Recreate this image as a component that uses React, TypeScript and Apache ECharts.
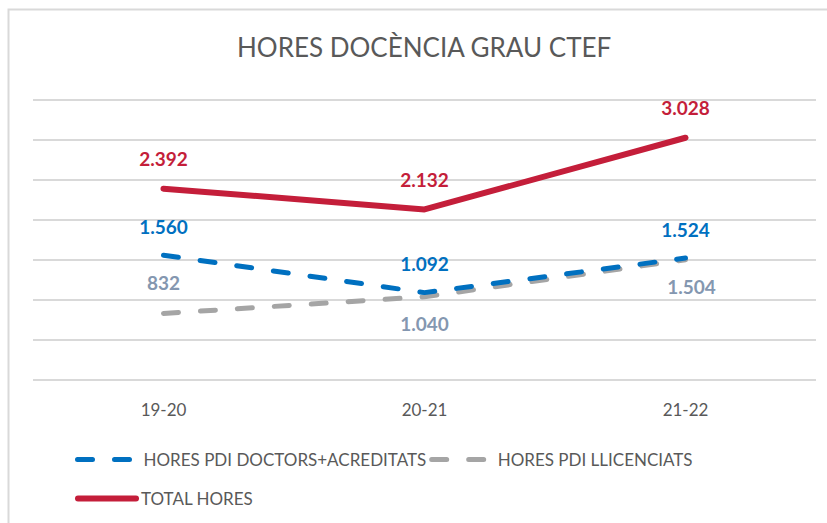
import React, { useEffect, useRef } from "react";
import * as echarts from "echarts";

const categories = ["19-20", "20-21", "21-22"];
const doctors = [1560, 1092, 1524];
const llicenciats = [832, 1040, 1504];
const total = [2392, 2132, 3028];
const yTicks = [0, 500, 1000, 1500, 2000, 2500, 3000, 3500];

const NAME_DOC = "HORES PDI DOCTORS+ACREDITATS";
const NAME_LLI = "HORES PDI LLICENCIATS";
const NAME_TOT = "TOTAL HORES";

const FONT = "Lato, 'Liberation Sans', sans-serif";

const fmt = (v: number) => {
  const s = String(Math.round(v));
  return s.replace(/\B(?=(\d{3})+(?!\d))/g, ".");
};

export default function App() {
  const ref = useRef<HTMLDivElement>(null);
  useEffect(() => {
    if (!ref.current) return;
    const chart = echarts.init(ref.current, undefined, { renderer: "svg" });
    const labelBase = {
      show: true,
      fontFamily: FONT,
      fontWeight: "bold" as const,
      fontSize: 19,
      formatter: (p: any) => fmt(p.value),
    };
    const clear = "rgba(0,0,0,0)";
    chart.setOption({
      animation: false,
      backgroundColor: "#ffffff",
      title: {
        text: "HORES DOCÈNCIA GRAU CTEF",
        left: 237,
        top: 34,
        padding: 0,
        textStyle: { fontFamily: FONT, fontSize: 26, fontWeight: "normal", color: "#595959" },
      },
      graphic: [
        {
          type: "rect",
          shape: { x: 8.5, y: 9.5, width: 840, height: 540 },
          style: { fill: "none", stroke: "#d9d9d9", lineWidth: 2 },
          silent: true,
        },
      ],
      grid: { left: 33, right: 11, top: 100, bottom: 143, containLabel: false },
      xAxis: {
        type: "category",
        data: categories,
        boundaryGap: true,
        axisLine: { show: false },
        axisTick: { show: false },
        axisLabel: { margin: 21, fontFamily: FONT, fontSize: 17, color: "#595959" },
      },
      yAxis: {
        type: "value",
        min: yTicks[0],
        max: yTicks[yTicks.length - 1],
        interval: 500,
        axisLabel: { show: false },
        axisLine: { show: false },
        axisTick: { show: false },
        splitLine: { lineStyle: { color: "#d9d9d9", width: 2 } },
      },
      legend: [
        {
          data: [NAME_DOC, NAME_LLI],
          left: 75,
          top: 451,
          padding: 0,
          orient: "horizontal",
          itemWidth: 58,
          itemHeight: 14,
          itemGap: 3,
          itemStyle: { opacity: 0 },
          lineStyle: { width: 5, cap: "round" },
          textStyle: { fontFamily: FONT, fontSize: 17, color: "#595959", padding: [0, 0, 0, 3] },
        },
        {
          data: [NAME_TOT],
          left: 75,
          top: 490,
          padding: 0,
          itemWidth: 58,
          itemHeight: 14,
          itemStyle: { opacity: 0 },
          lineStyle: { width: 6, cap: "round" },
          textStyle: { fontFamily: FONT, fontSize: 17, color: "#595959", padding: [0, 0, 0, 0] },
        },
      ],
      series: [
        {
          name: NAME_LLI,
          type: "line",
          data: llicenciats.map((v, i) => ({
            value: v,
            label:
              i === 0
                ? { position: "top", distance: 21 }
                : i === 1
                ? { position: "bottom", distance: 17 }
                : { position: "bottom", distance: 17, offset: [6, 0] },
          })),
          symbol: "circle",
          symbolSize: 1,
          itemStyle: { color: clear },
          lineStyle: { color: "#A5A5A5", width: 5, type: [15, 22], cap: "round" },
          label: { ...labelBase, color: "#8497B0" },
          z: 2,
        },
        {
          name: NAME_DOC,
          type: "line",
          data: doctors,
          symbol: "circle",
          symbolSize: 1,
          itemStyle: { color: clear },
          lineStyle: { color: "#0070C0", width: 5, type: [15, 22], cap: "round" },
          label: { ...labelBase, color: "#0070C0", position: "top", distance: 19 },
          z: 3,
        },
        {
          name: NAME_TOT,
          type: "line",
          data: total,
          symbol: "circle",
          symbolSize: 1,
          itemStyle: { color: clear },
          lineStyle: { color: "#C41E3A", width: 6, cap: "round" },
          label: { ...labelBase, color: "#C41E3A", position: "top", distance: 20 },
          z: 4,
        },
      ],
    });
    return () => chart.dispose();
  }, []);
  return (
    <div
      ref={ref}
      style={{ position: "fixed", left: 0, top: 0, width: 827, height: 523 }}
    />
  );
}
